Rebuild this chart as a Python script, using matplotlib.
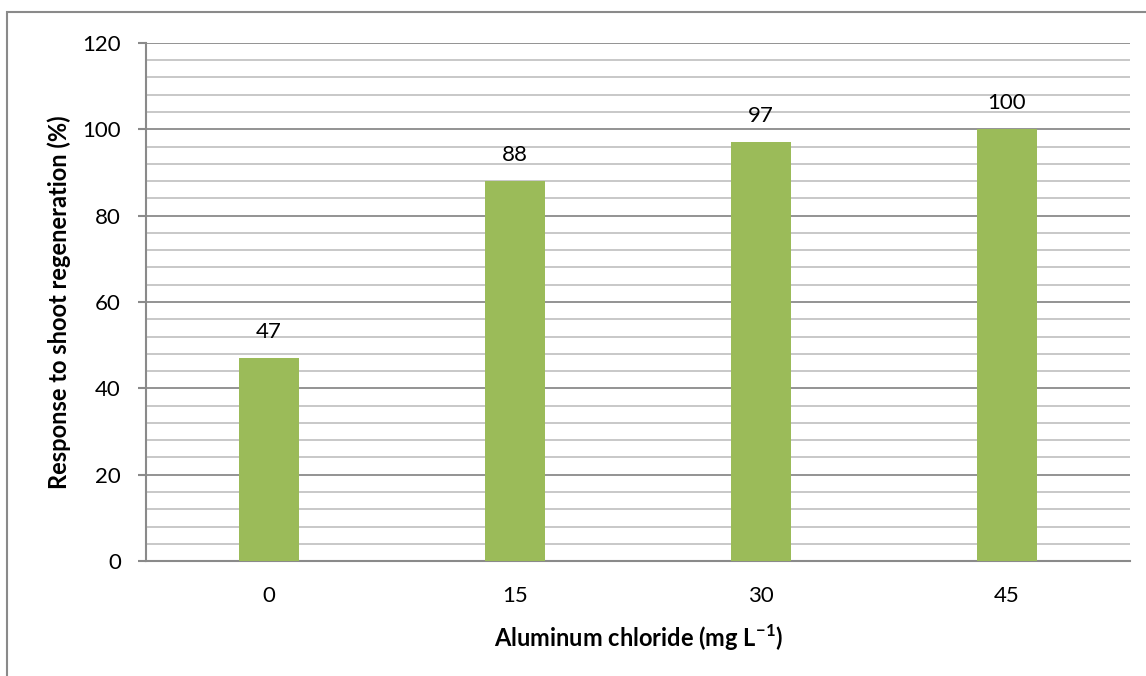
import matplotlib
matplotlib.use('Agg')
import matplotlib.pyplot as plt
from matplotlib.patches import Rectangle

# aluminum chloride doses and shoot regeneration response
doses = ['0', '15', '30', '45']
response = [47, 88, 97, 100]

plt.rcParams['font.family'] = ['Lato', 'DejaVu Sans']
plt.rcParams['mathtext.fontset'] = 'custom'
plt.rcParams['mathtext.bf'] = 'Lato:bold'
plt.rcParams['mathtext.rm'] = 'Lato'

fig = plt.figure(figsize=(11.46, 6.76), dpi=100)
ax = fig.add_axes([0.1274, 0.170, 0.8586, 0.7666])

x = range(len(doses))
ax.bar(x, response, width=0.245, color='#9BBB59', zorder=3)
for xi, v in zip(x, response):
    ax.text(xi, v + 4.6, str(v), ha='center', va='baseline', fontsize=16, color='black')

ax.set_xlim(-0.5, len(doses) - 0.5)
ax.set_ylim(0, 120)
ax.set_yticks(range(0, 121, 20))
ax.set_yticks(range(0, 121, 4), minor=True)
ax.set_xticks(list(x))
ax.set_xticklabels(doses)

# gridlines: major darker, minor lighter
ax.grid(axis='y', which='major', color='#8a8a8a', linewidth=1.3, zorder=0)
ax.grid(axis='y', which='minor', color='#c4c4c4', linewidth=1.3, zorder=0)

for s in ['top', 'right']:
    ax.spines[s].set_visible(False)
ax.spines['left'].set_color('#8a8a8a')
ax.spines['left'].set_linewidth(1.5)
ax.spines['bottom'].set_color('#8a8a8a')
ax.spines['bottom'].set_linewidth(1.5)

ax.tick_params(axis='y', which='major', length=6, width=1.5, color='#8a8a8a',
               labelsize=16, pad=12)
ax.tick_params(axis='y', which='minor', length=0)
ax.tick_params(axis='x', length=0, labelsize=16, pad=18)

ax.set_ylabel('Response to shoot regeneration (%)', fontsize=17, fontweight='bold', labelpad=8)
ax.set_xlabel('Aluminum chloride (mg L$^{\\mathbf{-1}}$)', fontsize=17, fontweight='bold', labelpad=12)

# outer chart frame (left and top edges)
fig.patches.append(Rectangle((7 / 1146, -0.1), 1.2, 1.1 - 12 / 676, transform=fig.transFigure,
                             fill=False, edgecolor='#8a8a8a', linewidth=1.5))

fig.savefig('out.png', dpi=100)
